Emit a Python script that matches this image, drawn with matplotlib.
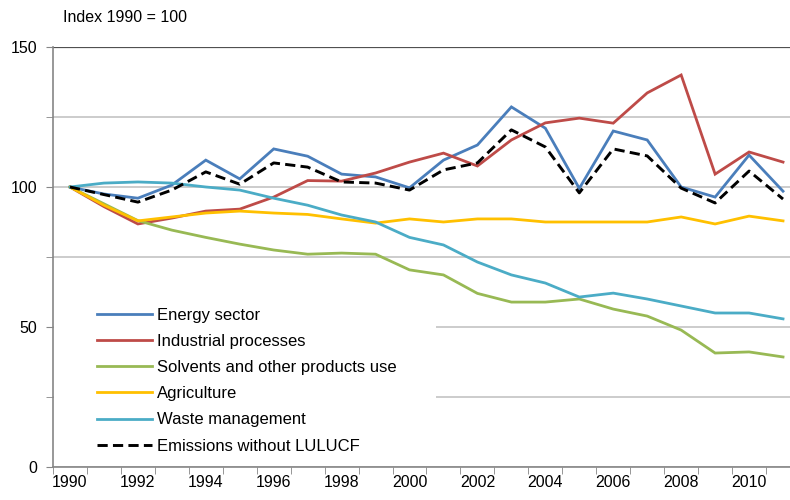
import matplotlib
matplotlib.use("Agg")
import matplotlib.pyplot as plt
from matplotlib.patches import Rectangle
from matplotlib.ticker import MultipleLocator

plt.rcParams['font.family'] = ['Liberation Sans', 'DejaVu Sans']

years = list(range(1990, 2012))

energy = [100, 97.5, 96, 100.7, 109.6, 102.9, 113.6, 111, 104.6, 103.6, 99.7,
          109.6, 115, 128.6, 121, 99.5, 120, 116.8, 100, 96.4, 111.4, 98.5]
industrial = [100, 93, 86.8, 88.9, 91.4, 92.1, 96.4, 102.3, 102.1, 105, 108.9,
              112.1, 107.5, 116.8, 122.9, 124.6, 122.8, 133.6, 140, 104.6, 112.5, 108.9]
solvents = [100, 94, 88, 84.6, 82, 79.6, 77.5, 76, 76.4, 76, 70.4,
            68.6, 62, 58.9, 58.9, 60, 56.4, 53.9, 48.9, 40.7, 41.1, 39.3]
agriculture = [100, 93.5, 87.9, 89.3, 90.7, 91.4, 90.7, 90.2, 88.6, 87.1, 88.6,
               87.5, 88.6, 88.6, 87.5, 87.5, 87.5, 87.5, 89.3, 86.8, 89.6, 87.9]
waste = [100, 101.4, 101.8, 101.4, 100, 98.9, 96, 93.5, 90, 87.5, 82,
         79.3, 73.2, 68.6, 65.7, 60.7, 62.1, 60, 57.5, 55, 55, 52.9]
total = [100, 97.3, 94.6, 98.9, 105.4, 101, 108.6, 107.1, 101.8, 101.4, 98.9,
         106.1, 108.6, 120.4, 114.3, 97.9, 113.6, 111.1, 99.6, 94.3, 105.7, 95.7]

labels = ["Energy sector", "Industrial processes", "Solvents and other products use",
          "Agriculture", "Waste management", "Emissions without LULUCF"]
colors = ["#4A7EBB", "#BE4B48", "#98B954", "#FFC000", "#4BACC6", "black"]

fig = plt.figure(figsize=(7.9, 5), dpi=100)
ax = fig.add_axes([53/790, 1-467/500, 747/790, 420/500])

series = [energy, industrial, solvents, agriculture, waste]
for s, lab, c in zip(series, labels[:5], colors[:5]):
    ax.plot(years, s, color=c, lw=2.0, label=lab, solid_joinstyle='miter')
ax.plot(years, total, color='black', lw=2.1, ls=(0, (3.5, 1.8)), label=labels[5])

ax.set_xlim(1989.5, 2011.5)
ax.set_ylim(0, 150)

ax.yaxis.set_major_locator(MultipleLocator(50))
ax.yaxis.set_minor_locator(MultipleLocator(25))
ax.grid(True, which='both', axis='y', color='#BEBEBE', lw=1.1)
ax.set_axisbelow(True)
ax.axhline(150, color='#505050', lw=1.6, zorder=1)

ax.set_xticks(range(1990, 2012, 2))
ax.set_xticks([y + 0.5 for y in range(1989, 2012)], minor=True)
ax.tick_params(axis='x', which='major', length=0, pad=5.5, labelsize=11.5)
ax.tick_params(axis='x', which='minor', length=5, color='#868686', direction='out')
ax.tick_params(axis='y', which='both', length=5, color='#868686', direction='out',
               pad=6.5, labelsize=11.5)

for side in ['top', 'right']:
    ax.spines[side].set_visible(False)
for side in ['left', 'bottom']:
    ax.spines[side].set_color('#868686')
    ax.spines[side].set_linewidth(1.2)

# white background behind legend hides the gridlines there
ax.add_patch(Rectangle((0.002, 0.03), 0.511, 0.39, transform=ax.transAxes,
                       facecolor='white', edgecolor='none', zorder=1))
ax.legend(loc='upper left', bbox_to_anchor=(0.0589, 0.379), frameon=False,
          fontsize=12, handlelength=3.3, handletextpad=0.3, labelspacing=0.67,
          borderpad=0, borderaxespad=0)

fig.text(63/790, 1-17/500, "Index 1990 = 100", fontsize=11.5, va='center', ha='left')

fig.savefig("out.png", dpi=100)
